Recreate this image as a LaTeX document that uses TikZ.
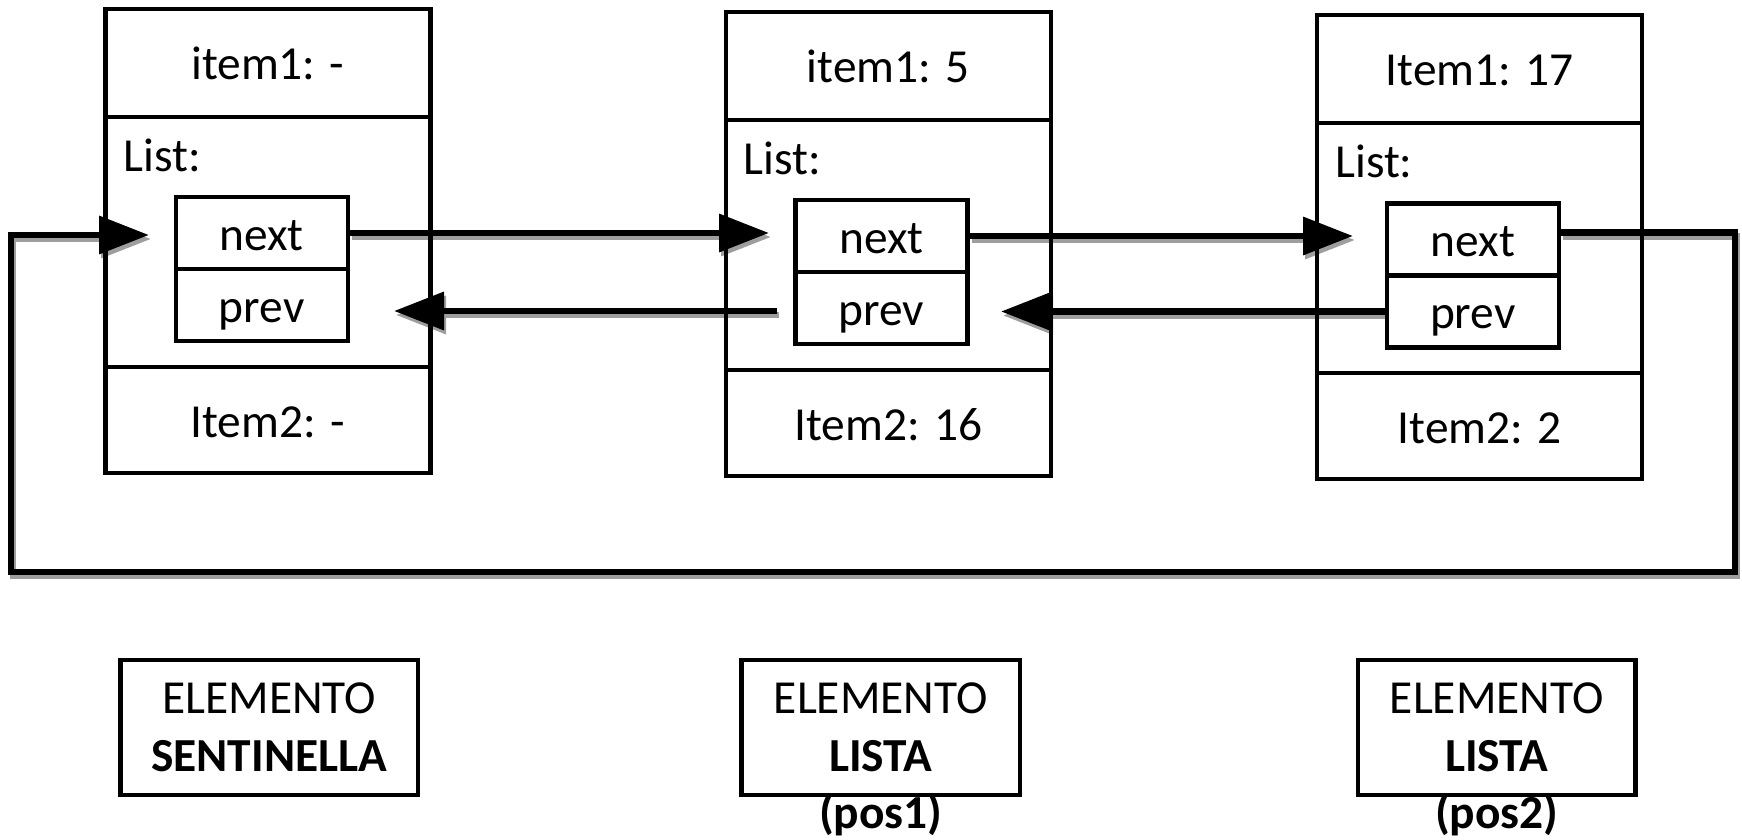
\documentclass[tikz,border=0pt]{standalone}
\usepackage{fontspec}
\setmainfont{Carlito}
\usetikzlibrary{arrows.meta,calc,backgrounds}
\newcommand\diagfont{\fontsize{23.7pt}{28.85pt}\selectfont}
\tikzset{
  comp/.style={draw, line width=2.25pt, inner sep=0pt, minimum width=162.5pt,
    text height=17pt, text depth=0pt, font=\diagfont},
  inner/.style={draw, line width=2.25pt, inner sep=0pt, minimum width=86pt,
    minimum height=36pt, text height=17pt, text depth=0pt, font=\diagfont},
  lbl/.style={anchor=base west, inner sep=0pt, font=\diagfont},
  tag/.style={draw, line width=2.25pt, inner sep=0pt, minimum height=67.5pt},
  tagtext/.style={anchor=north, align=center, inner sep=0pt, font=\diagfont},
  conn/.style={line width=3.4pt, -{Triangle[length=25pt,width=18.5pt]}},
  connsh/.style={conn, draw=black!38},
}
\newcommand\allconn[1]{%
  \draw[#1] (I1n.east) -- (I1n.east -| t2);
  \draw[#1] (I2n.east) -- (I2n.east -| t3);
  \draw[#1] (p2s) -- (p2s -| t1p);
  \draw[#1] (I3p.west) -- (I3p.west -| t2p);
  \draw[#1] (l3s) -- (l3s -| cR) -- (cR) -- (cL) -- (cL |- t1) -- (t1);}
\begin{document}
\begin{tikzpicture}[x=0.5pt,y=-0.5pt]
\useasboundingbox (0,0) rectangle (1742,840);
% box 1 (sentinel)
\node[comp, minimum height=54pt]  (B1t) at (267.75,63)  {item1: -};
\node[comp, minimum height=125pt] (B1m) at (267.75,242) {};
\node[comp, minimum height=53pt]  (B1b) at (267.75,420) {Item2: -};
\node[lbl] (L1) at ($(B1m.north west)+(20,56.5)$) {List:};
\node[inner] (I1n) at (261.75,233) {next};
\node[inner] (I1p) at (261.75,305) {prev};
% box 2
\node[comp, minimum height=54pt]  (B2t) at (888.3,66)  {item1: 5};
\node[comp, minimum height=125pt] (B2m) at (888.3,245) {};
\node[comp, minimum height=53pt]  (B2b) at (888.3,423) {Item2: 16};
\node[lbl] (L2) at ($(B2m.north west)+(20,56.5)$) {List:};
\node[inner] (I2n) at (881.5,236) {next};
\node[inner] (I2p) at (881.5,308) {prev};
% box 3
\node[comp, minimum height=54pt]  (B3t) at (1479.6,69)  {Item1: 17};
\node[comp, minimum height=125pt] (B3m) at (1479.6,248) {};
\node[comp, minimum height=53pt]  (B3b) at (1479.6,426) {Item2: 2};
\node[lbl] (L3) at ($(B3m.north west)+(20,56.5)$) {List:};
\node[inner] (I3n) at (1472.85,239.5) {next};
\node[inner] (I3p) at (1472.85,311.5) {prev};
% coordinates
\coordinate (t1) at (149,235);
\coordinate (t2) at (769,234);
\coordinate (t3) at (1353,234);
\coordinate (t1p) at (394,311);
\coordinate (t2p) at (1001,314);
\coordinate (p2s) at ($(I2p.west)+(-16,3)$);
\coordinate (l3s) at ($(I3n.east)+(0,-7)$);
\coordinate (cR) at (1735,572);
\coordinate (cL) at (11,572);
% connectors: shadows behind, then black
\begin{pgfonlayer}{background}
  \begin{scope}[transform canvas={shift={(2,4)}}]
    \allconn{connsh}
  \end{scope}
\end{pgfonlayer}
\allconn{conn}
% bottom tags
\node[tag, minimum width=148.8pt] (S)  at (269.2,727.5) {};
\node[tag, minimum width=139.3pt] (T1) at (880.7,727.5) {};
\node[tag, minimum width=138.8pt] (T2) at (1496.7,727.5) {};
\node[tagtext] (St)  at ($(S.north)+(0,24.5)$)  {ELEMENTO\\\textbf{SENTINELLA}};
\node[tagtext] (T1t) at ($(T1.north)+(0,24.5)$) {ELEMENTO\\\textbf{LISTA}\\\textbf{(pos1)}};
\node[tagtext] (T2t) at ($(T2.north)+(0,24.5)$) {ELEMENTO\\\textbf{LISTA}\\\textbf{(pos2)}};
\end{tikzpicture}
\end{document}
